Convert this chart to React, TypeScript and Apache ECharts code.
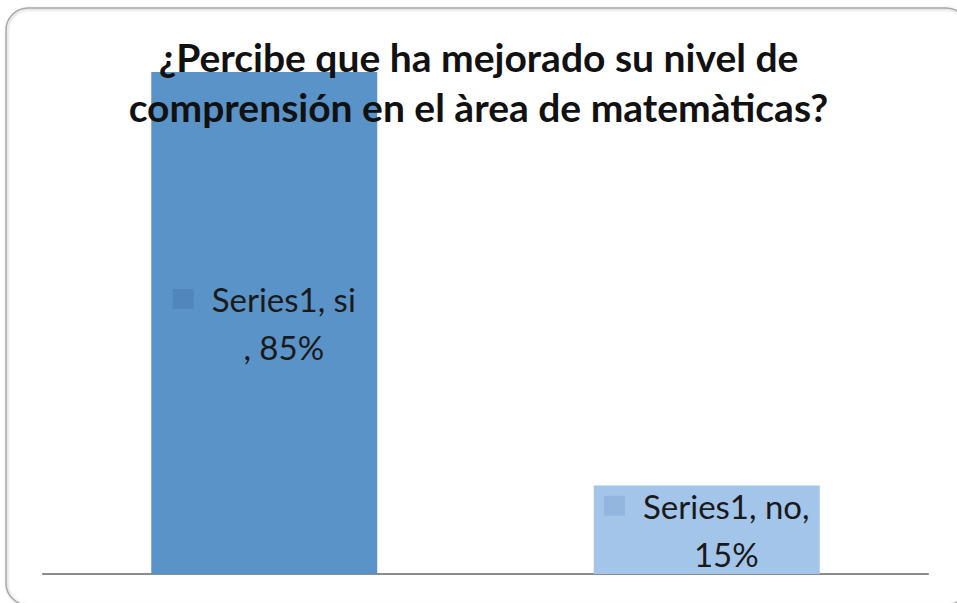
import React, { useEffect, useRef } from "react";
import * as echarts from "echarts";

const categories = ["si", "no"];
const values = [0.85, 0.15];
const seriesName = "Series1";
const barColors = ["#5A93C8", "#A4C5EA"];
const keyColors = ["#4F87BD", "#93B6DE"];
const titleText = "¿Percibe que ha mejorado su nivel de\ncomprensión en el àrea de matemàticas?";

export default function App() {
  const ref = useRef<HTMLDivElement>(null);
  useEffect(() => {
    if (!ref.current) return;
    const chart = echarts.init(ref.current, undefined, { renderer: "svg" });
    const fmtLabel = (idx: number) => {
      const pct = Math.round(values[idx] * 100) + "%";
      const k = "k" + idx;
      if (idx === 0) {
        return `{${k}|}{gap|}{t|${seriesName}, ${categories[idx]}}\n{sp|}{t|, ${pct}}`;
      }
      return `{${k}|}{gap|}{t|${seriesName}, ${categories[idx]},}\n{sp|}{t|${pct}}`;
    };
    const rich: any = {
      t: { fontFamily: "Lato", fontSize: 33, color: "#1a1a1a", lineHeight: 48 },
      gap: { width: 18, height: 20 },
      sp: { width: 39, height: 20 },
    };
    keyColors.forEach((c, i) => {
      rich["k" + i] = { width: 21, height: 20, backgroundColor: c };
    });
    chart.setOption({
      animation: false,
      backgroundColor: "#ffffff",
      title: {
        text: titleText,
        left: "center",
        top: 32,
        padding: 0,
        z: 10,
        textStyle: {
          fontFamily: "Lato",
          fontWeight: "bold",
          fontSize: 39,
          lineHeight: 50,
          color: "#111111",
        },
      },
      graphic: [
        {
          type: "rect",
          z: -1,
          shape: { x: 6, y: 8, width: 962, height: 597, r: 22 },
          style: { fill: "none", stroke: "#a8a8a8", lineWidth: 1.5, shadowBlur: 3, shadowColor: "rgba(0,0,0,0.25)", shadowOffsetX: 1, shadowOffsetY: 1 },
        },
      ],
      grid: { left: 43, right: 29, top: 42.5, bottom: 29, containLabel: false },
      xAxis: {
        type: "category",
        data: categories,
        axisLine: { show: true, lineStyle: { color: "#8c8c8c", width: 2 } },
        axisTick: { show: false },
        axisLabel: { show: false },
        splitLine: { show: false },
      },
      yAxis: {
        type: "value",
        min: 0,
        max: 0.9,
        show: false,
        splitLine: { show: false },
      },
      series: [
        {
          type: "bar",
          name: seriesName,
          barWidth: 226,
          data: values.map((v, i) => ({
            value: v,
            itemStyle: { color: barColors[i] },
            label: {
              show: true,
              position: "inside",
              formatter: () => fmtLabel(i),
              rich,
            },
          })),
        },
      ],
    });
    return () => chart.dispose();
  }, []);
  return (
    <div
      ref={ref}
      style={{ position: "fixed", left: 0, top: 0, width: 957, height: 603 }}
    />
  );
}
